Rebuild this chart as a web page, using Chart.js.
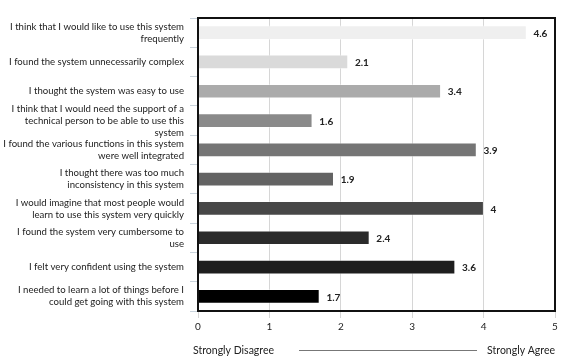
<!DOCTYPE html>
<html>
<head>
<meta charset="utf-8">
<script src="https://cdn.jsdelivr.net/npm/chart.js@4/dist/chart.umd.min.js"></script>
<style>
html,body{margin:0;padding:0;background:#fff;}
#wrap{width:567px;height:363px;position:relative;}
</style>
</head>
<body>
<div id="wrap"><canvas id="c"></canvas></div>
<script>
const categories = [
  ["I think that I would like to use this system", "frequently"],
  "I found the system unnecessarily complex",
  "I thought the system was easy to use",
  ["I think that I would need the support of a", "technical person to be able to use this", "system"],
  ["I found the various functions in this system", "were well integrated"],
  ["I thought there was too much", "inconsistency in this system"],
  ["I would imagine that most people would", "learn to use this system very quickly"],
  ["I found the system very cumbersome to", "use"],
  "I felt very confident using the system",
  ["I needed to learn a lot of things before I", "could get going with this system"]
];
const scores = [4.6, 2.1, 3.4, 1.6, 3.9, 1.9, 4, 2.4, 3.6, 1.7];
const barColors = ["#efefef", "#dadada", "#ababab", "#8a8a8a", "#757575", "#636363", "#474747", "#2b2b2b", "#1e1e1e", "#000000"];
const xTicks = [0, 1, 2, 3, 4, 5];
const leftCaption = "Strongly Disagree";
const rightCaption = "Strongly Agree";

const FONT = "Lato, 'Noto Sans', sans-serif";

const decorPlugin = {
  id: 'decor',
  afterDatasetsDraw(chart) {
    const ctx = chart.ctx;
    const meta = chart.getDatasetMeta(0);
    ctx.save();
    ctx.font = "bold 10px " + FONT;
    ctx.fillStyle = "#222";
    ctx.textAlign = "left";
    ctx.textBaseline = "middle";
    meta.data.forEach((bar, i) => {
      ctx.fillText(String(scores[i]), bar.x + 7, bar.y + 1);
    });
    ctx.restore();
  },
  afterDraw(chart) {
    const ctx = chart.ctx;
    const a = chart.chartArea;
    ctx.save();
    ctx.strokeStyle = "#111";
    ctx.lineWidth = 2;
    ctx.strokeRect(a.left, a.top, a.right - a.left, a.bottom - a.top);
    const y = 351;
    ctx.font = "10.5px " + FONT;
    ctx.fillStyle = "#222";
    ctx.textBaseline = "middle";
    ctx.textAlign = "left";
    ctx.fillText(leftCaption, a.left - 5, y);
    ctx.textAlign = "right";
    ctx.fillText(rightCaption, a.right, y);
    ctx.strokeStyle = "#777";
    ctx.lineWidth = 1;
    ctx.beginPath();
    ctx.moveTo(299, y - 0.5);
    ctx.lineTo(477, y - 0.5);
    ctx.stroke();
    ctx.restore();
  }
};

new Chart(document.getElementById('c'), {
  type: 'bar',
  data: {
    labels: categories,
    datasets: [{
      data: scores,
      backgroundColor: barColors,
      borderColor: "rgba(255,255,255,0.35)",
      borderWidth: 1,
      barThickness: 14
    }]
  },
  options: {
    indexAxis: 'y',
    responsive: true,
    maintainAspectRatio: false,
    animation: false,
    layout: { padding: { top: 10, right: 12, left: 0, bottom: 0 } },
    plugins: { legend: { display: false }, tooltip: { enabled: false } },
    scales: {
      x: {
        min: 0, max: 5,
        afterBuildTicks(scale) { scale.ticks = xTicks.map(v => ({ value: v })); },
        afterFit(scale) { scale.height = 52; },
        grid: { color: "#d6d6d6", lineWidth: 1, tickLength: 7, drawTicks: true },
        border: { display: false },
        ticks: { font: { family: FONT, size: 10 }, color: "#222", padding: 3 }
      },
      y: {
        afterFit(scale) { scale.width = 198; },
        grid: { offset: true, drawOnChartArea: false, drawTicks: true, tickLength: 8, color: "#c9d3dc" },
        border: { display: false },
        ticks: { font: { family: FONT, size: 9.6, lineHeight: 1.25 }, color: "#222", padding: 6, autoSkip: false }
      }
    }
  },
  plugins: [decorPlugin]
});
</script>
</body>
</html>
